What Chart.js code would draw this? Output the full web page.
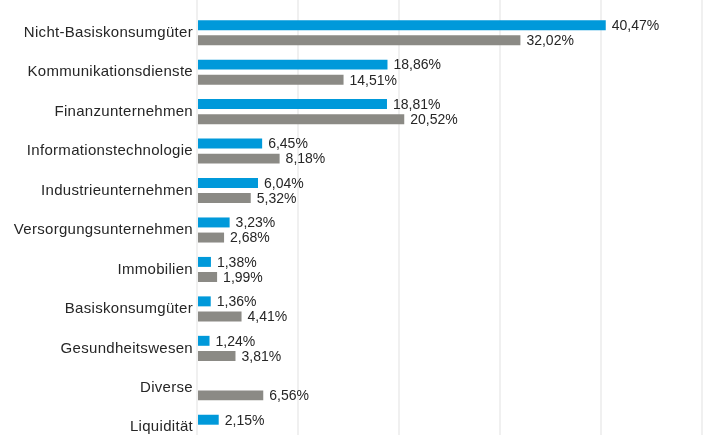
<!DOCTYPE html>
<html>
<head>
<meta charset="utf-8">
<script src="https://cdn.jsdelivr.net/npm/chart.js@4"></script>
<style>
  html, body { margin: 0; padding: 0; background: #fff; overflow: hidden; }
  #wrap { position: relative; width: 718px; height: 460px; }
</style>
</head>
<body>
<div id="wrap"><canvas id="chart"></canvas></div>
<script>
const categories = ["Nicht-Basiskonsumgüter", "Kommunikationsdienste", "Finanzunternehmen", "Informationstechnologie",
  "Industrieunternehmen", "Versorgungsunternehmen", "Immobilien", "Basiskonsumgüter", "Gesundheitswesen", "Diverse", "Liquidität"];
const fondsValues = [40.47, 18.86, 18.81, 6.45, 6.04, 3.23, 1.38, 1.36, 1.24, null, 2.15];
const indexValues = [32.02, 14.51, 20.52, 8.18, 5.32, 2.68, 1.99, 4.41, 3.81, 6.56, null];
const xTicks = [0, 10, 20, 30, 40, 50];

const fmt = v => v.toFixed(2).replace('.', ',') + '%';

// category labels in the original are slightly spaced out
const spacedLabels = {
  id: 'spacedLabels',
  beforeDraw(chart) { chart.ctx.letterSpacing = '0.3px'; },
  beforeLayout(chart) { chart.ctx.letterSpacing = '0.3px'; }
};

// value labels next to the bar ends
const valueLabels = {
  id: 'valueLabels',
  afterDatasetsDraw(chart) {
    const ctx = chart.ctx;
    ctx.save();
    ctx.letterSpacing = '0px';
    ctx.font = '14px "Liberation Sans", Arial, sans-serif';
    ctx.fillStyle = '#262626';
    ctx.textBaseline = 'middle';
    chart.data.datasets.forEach((ds, i) => {
      chart.getDatasetMeta(i).data.forEach((bar, j) => {
        const v = ds.data[j];
        if (v == null) return;
        ctx.fillText(fmt(v), bar.x + 6, bar.y + 1);
      });
    });
    ctx.restore();
  }
};

// grid runs up to the top edge of the picture
const gridToTop = {
  id: 'gridToTop',
  beforeDatasetsDraw(chart) {
    const ctx = chart.ctx, x = chart.scales.x;
    ctx.save();
    ctx.strokeStyle = '#f0f0f0';
    ctx.lineWidth = 2;
    xTicks.forEach(t => {
      const px = x.getPixelForValue(t);
      ctx.beginPath();
      ctx.moveTo(px, 0);
      ctx.lineTo(px, chart.chartArea.top);
      ctx.stroke();
    });
    ctx.restore();
  }
};

new Chart(document.getElementById('chart'), {
  type: 'bar',
  data: {
    labels: categories,
    datasets: [{
        label: 'Fonds',
        data: fondsValues,
        backgroundColor: '#0099da',
        categoryPercentage: 0.765,
        barPercentage: 0.66
      },
      {
        label: 'Index',
        data: indexValues,
        backgroundColor: '#8b8a85',
        categoryPercentage: 0.765,
        barPercentage: 0.66
      }
    ]
  },
  options: {
    indexAxis: 'y',
    responsive: true,
    maintainAspectRatio: false,
    animation: false,
    layout: { padding: { top: 11.2, bottom: 11.4, left: 0, right: 16 } },
    plugins: {
      legend: { display: false },
      tooltip: { enabled: false }
    },
    scales: {
      x: {
        min: 0,
        max: 50,
        afterBuildTicks: s => { s.ticks = xTicks.map(v => ({ value: v })); },
        ticks: { display: false },
        grid: { color: '#f0f0f0', lineWidth: 2, drawTicks: false },
        border: { display: false }
      },
      y: {
        afterFit: s => { s.width = 197; },
        ticks: {
          color: '#262626',
          padding: 4,
          font: { family: '"Liberation Sans", Arial, sans-serif', size: 15 }
        },
        grid: { display: false, drawTicks: false },
        border: { display: false }
      }
    }
  },
  plugins: [spacedLabels, gridToTop, valueLabels]
});
</script>
</body>
</html>
